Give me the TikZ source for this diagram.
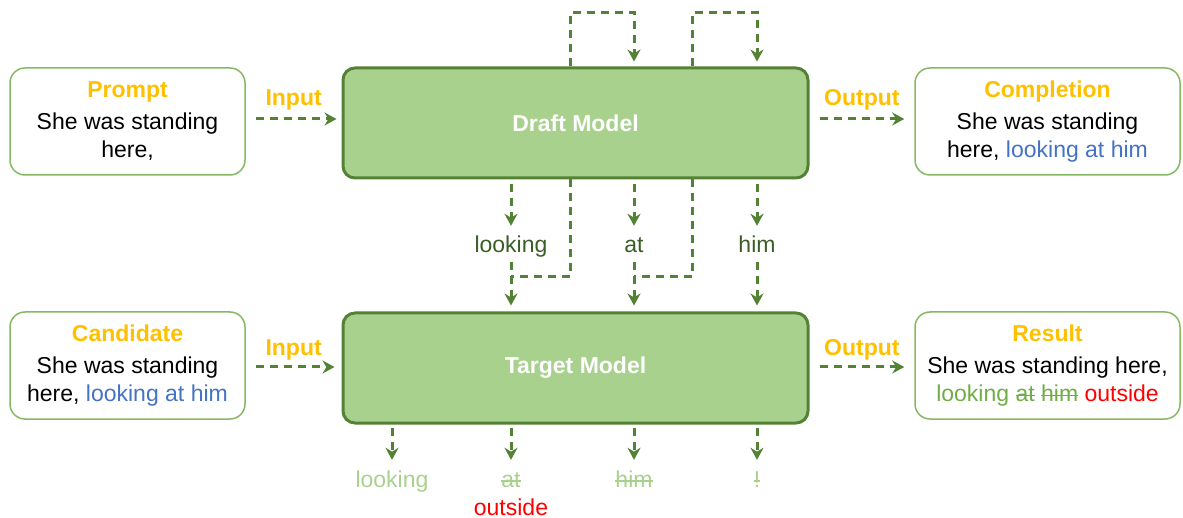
\documentclass[tikz,border=0pt]{standalone}
\usepackage{fontspec}
\setmainfont{Liberation Sans}
\usetikzlibrary{arrows.meta,positioning}

\definecolor{darkgreen}{HTML}{548235}
\definecolor{boxgreen}{HTML}{A9D18E}
\definecolor{okgreen}{HTML}{70AD47}
\definecolor{wordgreen}{HTML}{3B5E27}
\definecolor{gold}{HTML}{FFC000}
\definecolor{linkblue}{HTML}{4472C4}

\newsavebox\strikebox
\newcommand\strikeword[1]{\sbox\strikebox{#1}\rlap{\rule[0.42ex]{\wd\strikebox}{1.6pt}}\usebox\strikebox}

\tikzset{
  model/.style={draw=darkgreen, fill=boxgreen, line width=3pt, rounded corners=12pt,
    minimum width=465pt, minimum height=110pt, text=white,
    font=\fontsize{23}{27}\selectfont\bfseries},
  textbox/.style={draw=okgreen!85, line width=1.5pt, rounded corners=15pt,
    minimum width=235pt, minimum height=107pt, align=center,
    font=\fontsize{23}{28}\selectfont},
  flow/.style={darkgreen, line width=3pt, dash pattern=on 8pt off 6pt,
    -{Stealth[length=12pt,width=13pt]}},
  loopline/.style={darkgreen, line width=3pt, dash pattern=on 8pt off 6pt},
  word/.style={font=\fontsize{23}{27}\selectfont, text=wordgreen,
    text height=17pt, text depth=5pt, inner sep=2pt},
  tag/.style={font=\fontsize{23}{27}\selectfont\bfseries, text=gold},
}

\begin{document}
\begin{tikzpicture}[x=1pt,y=-1pt]
\useasboundingbox (0,0) rectangle (1183,518);

% models
\node[model] (draft) at (575.5,123) {Draft Model};
\node[model] (target) at (575.5,368) {Target Model};

% text boxes
\node[textbox] (prompt) at (127.5,121.5)
  {{\color{gold}\bfseries Prompt}\\[4pt]She was standing\\here,};
\node[textbox, minimum width=265pt] (completion) at (1047.5,121.5)
  {{\color{gold}\bfseries Completion}\\[4pt]She was standing\\here, {\color{linkblue}looking at him}};
\node[textbox] (candidate) at (127.5,365.5)
  {{\color{gold}\bfseries Candidate}\\[4pt]She was standing\\here, {\color{linkblue}looking at him}};
\node[textbox, minimum width=265pt] (result) at (1047.5,365.5)
  {{\color{gold}\bfseries Result}\\[4pt]She was standing here,\\{\color{okgreen}looking \strikeword{at} \strikeword{him}} {\color{red}outside}};

% input / output
\draw[flow, shorten <=10pt, shorten >=5pt] (prompt.east |- 0,119) -- (draft.west |- 0,119)
  node[midway, above=4pt, tag] {Input};
\draw[flow, shorten <=10pt, shorten >=10pt] (draft.east |- 0,119) -- (completion.west |- 0,119)
  node[midway, above=4pt, tag] {Output};
\draw[flow, shorten <=10pt, shorten >=7pt] (candidate.east |- 0,367) -- (target.west |- 0,367)
  node[midway, above=2pt, tag] {Input};
\draw[flow, shorten <=10pt, shorten >=10pt] (target.east |- 0,367) -- (result.west |- 0,367)
  node[midway, above=2pt, tag] {Output};

% draft tokens
\node[word] (w1) at (511,247) {looking};
\node[word] (w2) at (634,247) {at};
\node[word] (w3) at (757,247) {him};

\foreach \w in {w1,w2,w3} {
  \draw[flow, shorten <=5pt, shorten >=8pt] (draft.south -| \w) -- (\w.north);
  \draw[flow, shorten <=2pt, shorten >=6pt] (\w.south) -- (\w.south |- target.north);
}

% feedback into the draft model
\coordinate (k1) at (570,277);
\coordinate (k2) at (692,277);
\coordinate (t1) at (570,13);
\coordinate (t2) at (692,13);
\draw[loopline] (draft.south -| k1) -- (k1) -- (k1 -| w1);
\draw[loopline] (draft.south -| k2) -- (k2) -- (k2 -| w2);
\draw[flow, shorten >=5pt] (draft.north -| t1) -- (t1) -- (t1 -| w2) -- (draft.north -| w2);
\draw[flow, shorten >=5pt] (draft.north -| t2) -- (t2) -- (t2 -| w3) -- (draft.north -| w3);

% target outputs
\node[word, text=boxgreen] (o1) at (392,481) {looking};
\node[word, text=boxgreen] (o2) at (511,481) {\strikeword{at}};
\node[word, text=boxgreen] (o3) at (634,481) {\strikeword{him}};
\node[word, text=boxgreen] (o4) at (757,481) {\strikeword{!}};
\node[word, text=red] (fix) at (511,509) {outside};

\foreach \o in {o1,o2,o3,o4}
  \draw[flow, shorten <=3pt, shorten >=8pt] (target.south -| \o) -- (\o.north);
\end{tikzpicture}
\end{document}
